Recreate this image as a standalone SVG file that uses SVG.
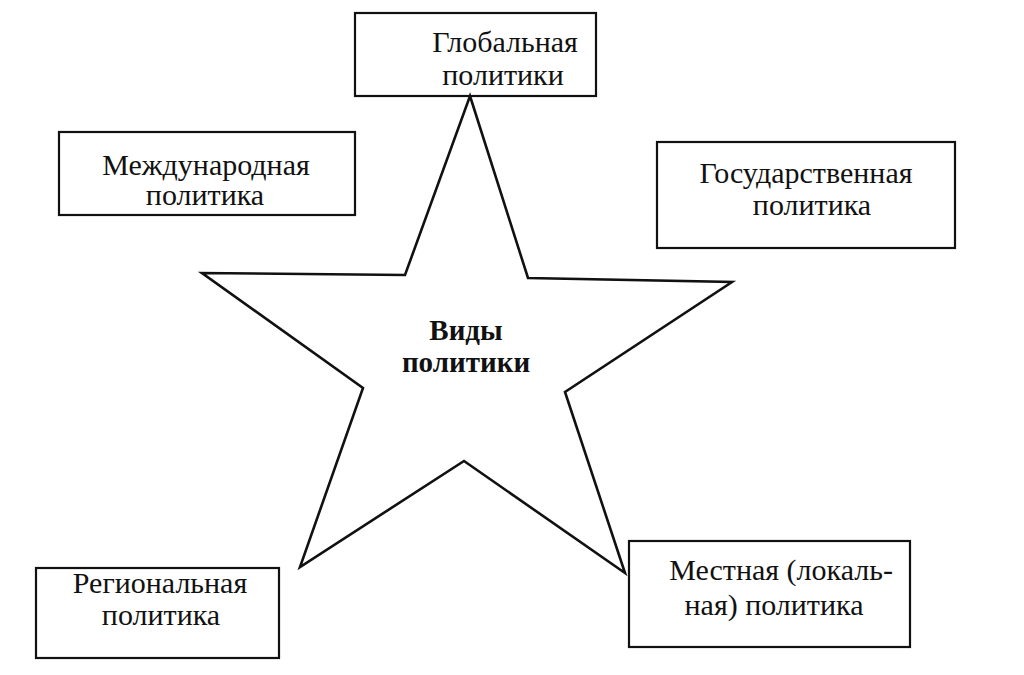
<svg xmlns="http://www.w3.org/2000/svg" width="1024" height="675" viewBox="0 0 1024 675">
<style>
.box{fill:#fff;stroke:#111;stroke-width:2.2}
.t{font-family:'Liberation Serif','DejaVu Serif','Times New Roman',serif;font-size:30px;fill:#111;text-anchor:middle}
.b{font-family:'Liberation Serif','DejaVu Serif','Times New Roman',serif;font-size:29px;font-weight:bold;fill:#111;text-anchor:middle}
.star{fill:#fff;stroke:#111;stroke-width:2.6;stroke-linejoin:miter}
</style>
<rect width="1024" height="675" fill="#fff"/>
<g id="connectors"></g>
<g id="global">
<rect class="box" x="355" y="13" width="241" height="83"/>
<text class="t" x="505" y="52">Глобальная</text>
<text class="t" x="503" y="85">политики</text>
</g>
<g id="star">
<polygon class="star" points="470,96 528,278 732,282 565,392 625,573 464,461 300,567 363,388 202,273 405,275"/>
<text class="b" x="466" y="340">Виды</text>
<text class="b" x="466" y="372">политики</text>
</g>
<g id="international">
<rect class="box" x="59" y="132" width="296" height="83"/>
<text class="t" x="206" y="175">Международная</text>
<text class="t" x="205" y="205">политика</text>
</g>
<g id="state">
<rect class="box" x="657" y="142" width="298" height="106"/>
<text class="t" x="806" y="183">Государственная</text>
<text class="t" x="812" y="215">политика</text>
</g>
<g id="regional">
<rect class="box" x="36" y="568" width="243" height="90"/>
<text class="t" x="160" y="593">Региональная</text>
<text class="t" x="161" y="625">политика</text>
</g>
<g id="local">
<rect class="box" x="629" y="541" width="281" height="106"/>
<text class="t" x="781" y="580">Местная (локаль-</text>
<text class="t" x="774" y="615">ная) политика</text>
</g>
</svg>
